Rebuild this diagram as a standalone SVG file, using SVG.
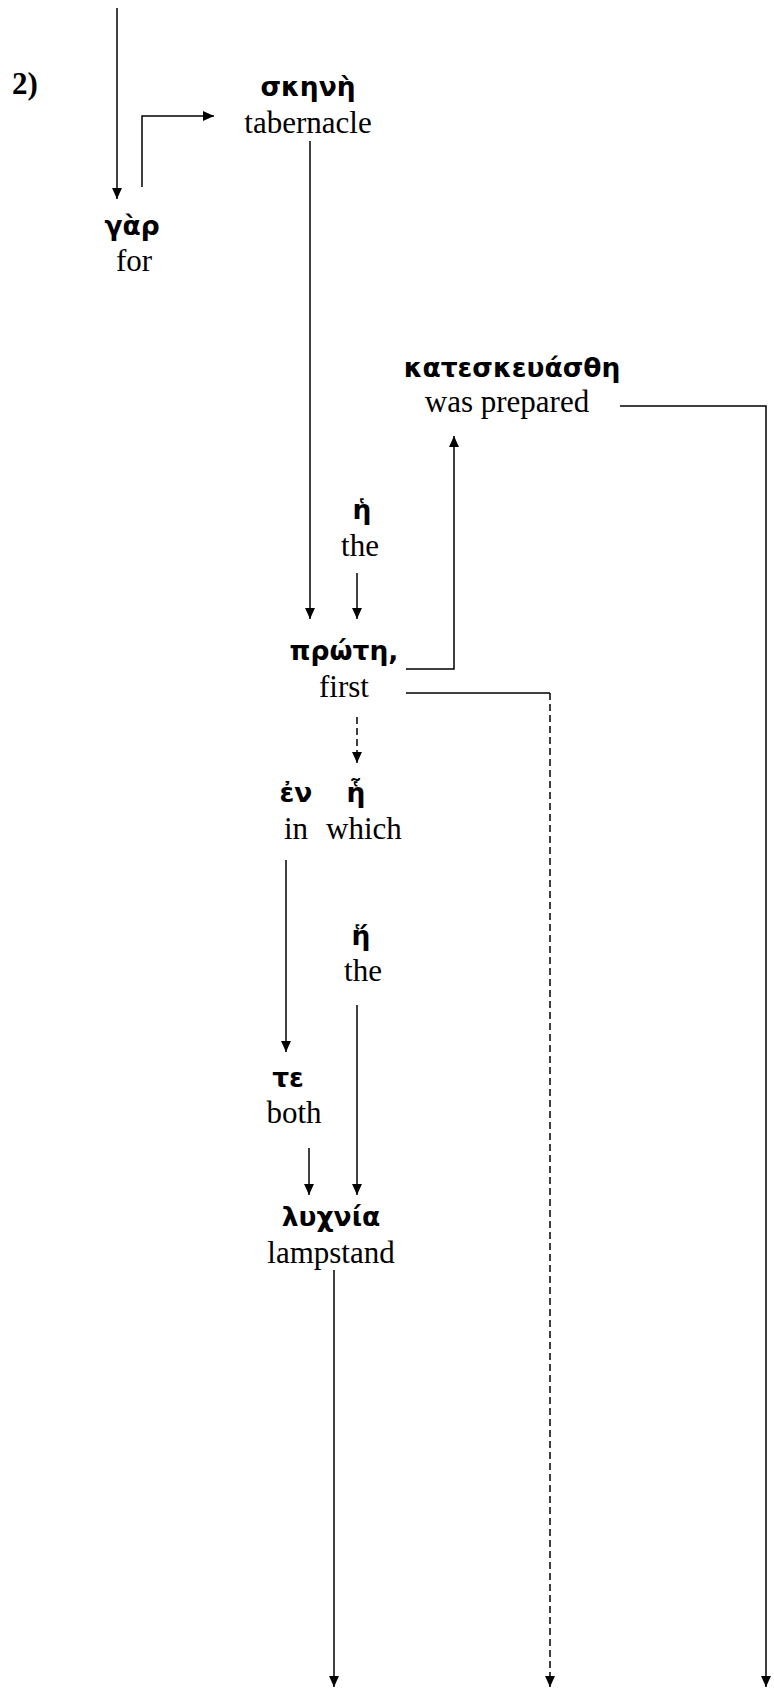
<svg xmlns="http://www.w3.org/2000/svg" width="774" height="1690" viewBox="0 0 774 1690">
<style>
.g{font-family:"DejaVu Sans","Noto Sans",sans-serif;font-weight:bold;font-size:26.5px;text-anchor:middle;fill:#000}
.e{font-family:"Liberation Serif","Times New Roman",serif;font-size:31px;text-anchor:middle;fill:#000}
.n{font-family:"Liberation Serif","Times New Roman",serif;font-size:31px;font-weight:bold;fill:#000}
.c{fill:none;stroke:#000;stroke-width:1.5}
.d{stroke-dasharray:7 4}
</style>
<defs>
<marker id="a" viewBox="0 0 10 10" refX="10" refY="5" markerWidth="11" markerHeight="11" markerUnits="userSpaceOnUse" orient="auto">
<path d="M0,0.5 L10,5 L0,9.5 Z" fill="#000"/>
</marker>
</defs>
<rect width="774" height="1690" fill="#fff"/>
<g id="label"><text class="n" x="12" y="94">2)</text></g>
<g id="skene"><text class="g" x="308" y="96">σκηνὴ</text><text class="e" x="308" y="133">tabernacle</text></g>
<g id="gar"><text class="g" x="132" y="235">γὰρ</text><text class="e" x="134" y="271">for</text></g>
<g id="kateskeuasthe"><text class="g" x="512" y="377">κατεσκευάσθη</text><text class="e" x="507" y="412">was prepared</text></g>
<g id="he1"><text class="g" x="362" y="519">ἡ</text><text class="e" x="360" y="556">the</text></g>
<g id="prote"><text class="g" x="344" y="660">πρώτη,</text><text class="e" x="344" y="697">first</text></g>
<g id="en"><text class="g" x="296" y="802">ἐν</text><text class="e" x="296" y="839">in</text></g>
<g id="he2"><text class="g" x="356" y="802">ἧ</text><text class="e" x="364" y="839">which</text></g>
<g id="he3"><text class="g" x="361" y="945">ἥ</text><text class="e" x="363" y="981">the</text></g>
<g id="te"><text class="g" x="288" y="1087">τε</text><text class="e" x="294" y="1123">both</text></g>
<g id="lychnia"><text class="g" x="331" y="1226">λυχνία</text><text class="e" x="331" y="1263">lampstand</text></g>
<g id="connectors">
<path class="c" d="M117,8 V199" marker-end="url(#a)"/>
<path class="c" d="M142,187 V116 H214" marker-end="url(#a)"/>
<path class="c" d="M310,141 V619" marker-end="url(#a)"/>
<path class="c" d="M357,573 V619" marker-end="url(#a)"/>
<path class="c" d="M406,669 H454 V436" marker-end="url(#a)"/>
<path class="c" d="M620,406 H766 V1687" marker-end="url(#a)"/>
<path class="c" d="M406,693 H550"/>
<path class="c d" d="M550,693 V1687" marker-end="url(#a)"/>
<path class="c d" d="M357,717 V763" marker-end="url(#a)"/>
<path class="c" d="M286,860 V1052" marker-end="url(#a)"/>
<path class="c" d="M357,1005 V1195" marker-end="url(#a)"/>
<path class="c" d="M309,1148 V1195" marker-end="url(#a)"/>
<path class="c" d="M334,1270 V1687" marker-end="url(#a)"/>
</g>
</svg>
